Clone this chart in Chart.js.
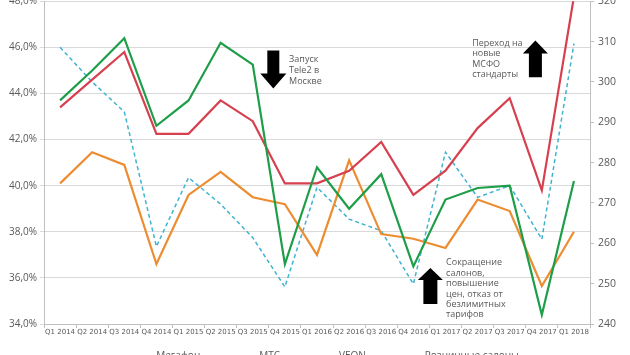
<!DOCTYPE html>
<html>
<head>
<meta charset="utf-8">
<script src="https://cdn.jsdelivr.net/npm/chart.js@4.4.1/dist/chart.umd.min.js"></script>
<style>
html,body{margin:0;padding:0;background:#fff;overflow:hidden;width:630px;height:355px;}
#wrap{position:absolute;left:0;top:-9px;width:630px;height:380px;}
</style>
</head>
<body>
<div id="wrap"><canvas id="c" width="630" height="380"></canvas></div>
<script>
const categories = ['Q1 2014','Q2 2014','Q3 2014','Q4 2014','Q1 2015','Q2 2015','Q3 2015','Q4 2015','Q1 2016','Q2 2016','Q3 2016','Q4 2016','Q1 2017','Q2 2017','Q3 2017','Q4 2017','Q1 2018'];
const megafon = [43.7,45.0,46.4,42.6,43.7,46.2,45.25,36.6,40.8,39.0,40.5,36.5,39.4,39.9,40.0,34.4,40.2];
const mts     = [43.4,44.6,45.8,42.25,42.25,43.7,42.8,40.1,40.1,40.65,41.9,39.6,40.65,42.5,43.8,39.8,48.2];
const veon    = [40.1,41.45,40.9,36.6,39.6,40.6,39.5,39.2,37.0,41.1,37.9,37.7,37.3,39.4,38.9,35.65,38.0];
const stores  = [308.6,300.0,292.6,259.2,276.3,269.7,261.4,249.2,273.9,266.0,263.1,249.9,282.6,271.4,274.3,261.0,309.5];
const seriesNames = ['Мегафон','МТС','VEON','Розничные салоны'];
const leftTicks = {min:34, max:48, step:2};
const rightTicks = {min:240, max:320, step:10};

const notes = [
  {arrow:'down', x:6.64, yTop:45.87, yTip:44.22, shaft:12, head:26, headH:15,
   textX:7.13, textY:45.48, lineH:11, lines:['Запуск','Tele2 в','Москве']},
  {arrow:'up', x:14.8, yTop:46.3, yBot:44.70, shaft:13, head:25, headH:13,
   textX:12.83, textY:46.17, lineH:10.3, lines:['Переход на','новые','МСФО','стандарты']},
  {arrow:'up', x:11.53, yTop:36.43, yBot:34.87, shaft:14, head:25, headH:12,
   textX:12.02, textY:36.65, lineH:10.4, lines:['Сокращение','салонов,','повышение','цен, отказ от','безлимитных','тарифов']}
];

const notePlugin = {
  id:'notes',
  afterDatasetsDraw(chart){
    const ctx = chart.ctx, xs = chart.scales.x, ys = chart.scales.y;
    ctx.save();
    notes.forEach(n=>{
      const cx = xs.getPixelForValue(n.x);
      ctx.fillStyle = '#000';
      ctx.beginPath();
      if(n.arrow==='down'){
        const t = ys.getPixelForValue(n.yTop), b = ys.getPixelForValue(n.yTip);
        const hb = b - n.headH;
        ctx.moveTo(cx-n.shaft/2,t); ctx.lineTo(cx+n.shaft/2,t); ctx.lineTo(cx+n.shaft/2,hb);
        ctx.lineTo(cx+n.head/2,hb); ctx.lineTo(cx,b); ctx.lineTo(cx-n.head/2,hb); ctx.lineTo(cx-n.shaft/2,hb);
      } else {
        const t = ys.getPixelForValue(n.yTop), b = ys.getPixelForValue(n.yBot);
        const ht = t + n.headH;
        ctx.moveTo(cx,t); ctx.lineTo(cx+n.head/2,ht); ctx.lineTo(cx+n.shaft/2,ht); ctx.lineTo(cx+n.shaft/2,b);
        ctx.lineTo(cx-n.shaft/2,b); ctx.lineTo(cx-n.shaft/2,ht); ctx.lineTo(cx-n.head/2,ht);
      }
      ctx.closePath(); ctx.fill();
      ctx.fillStyle = '#595959';
      ctx.font = '9px "Open Sans", sans-serif';
      ctx.textBaseline = 'middle'; ctx.textAlign = 'left';
      const tx = xs.getPixelForValue(n.textX), ty = ys.getPixelForValue(n.textY);
      n.lines.forEach((l,i)=>ctx.fillText(l, tx, ty + i*n.lineH));
    });
    ctx.restore();
  }
};

const fmtPct = v => v.toFixed(1).replace('.',',') + '%';

new Chart(document.getElementById('c'), {
  type:'line',
  data:{
    labels: categories,
    datasets:[
      {label:seriesNames[0], data:megafon, borderColor:'#1f9e4a', backgroundColor:'#1f9e4a', borderWidth:2.2, pointRadius:0, yAxisID:'y', tension:0},
      {label:seriesNames[1], data:mts, borderColor:'#d6404f', backgroundColor:'#d6404f', borderWidth:2.2, pointRadius:0, yAxisID:'y', tension:0},
      {label:seriesNames[2], data:veon, borderColor:'#ec8d32', backgroundColor:'#ec8d32', borderWidth:2.2, pointRadius:0, yAxisID:'y', tension:0},
      {label:seriesNames[3], data:stores, borderColor:'#3fb3cf', backgroundColor:'#3fb3cf', borderWidth:1.5, borderDash:[4,3], pointRadius:0, yAxisID:'y1', tension:0}
    ]
  },
  options:{
    responsive:false, animation:false,
    devicePixelRatio:1,
    layout:{padding:{left:0,right:0,top:0,bottom:0}},
    plugins:{
      legend:{position:'bottom', labels:{usePointStyle:true, pointStyle:'line', pointStyleWidth:40, boxWidth:40, padding:14, color:'#595959', font:{family:'"Open Sans", sans-serif', size:10}}},
      tooltip:{enabled:false}
    },
    scales:{
      x:{
        offset:true,
        grid:{offset:true, drawOnChartArea:false, drawTicks:true, tickLength:4, color:'#bfbfbf'},
        border:{display:true, color:'#bfbfbf'},
        ticks:{autoSkip:false, maxRotation:0, minRotation:0, padding:0, color:'#595959', font:{family:'"DejaVu Sans", sans-serif', size:7}},
        afterFit(s){ s.height = 13; }
      },
      y:{
        position:'left', min:leftTicks.min, max:leftTicks.max,
        grid:{color:'#d9d9d9', drawTicks:true, tickLength:4},
        border:{display:true, color:'#bfbfbf'},
        ticks:{stepSize:leftTicks.step, padding:3, color:'#595959', font:{family:'"Open Sans", sans-serif', size:10}, callback:v=>fmtPct(v)},
        afterFit(s){ s.width = 44; }
      },
      y1:{
        position:'right', min:rightTicks.min, max:rightTicks.max,
        grid:{drawOnChartArea:false, drawTicks:true, tickLength:4, color:'#bfbfbf'},
        border:{display:true, color:'#bfbfbf'},
        ticks:{stepSize:rightTicks.step, padding:4, color:'#595959', font:{family:'"Open Sans", sans-serif', size:10.5}},
        afterFit(s){ s.width = 40; }
      }
    }
  },
  plugins:[notePlugin]
});
</script>
</body>
</html>
